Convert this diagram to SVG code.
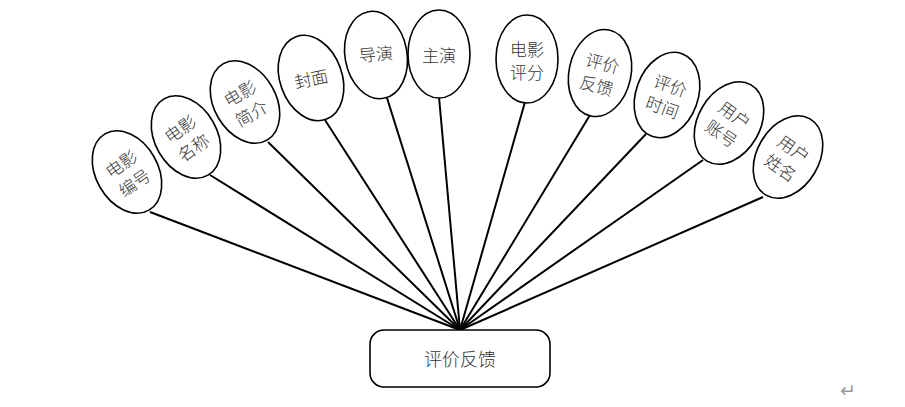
<svg xmlns="http://www.w3.org/2000/svg" width="905" height="407" viewBox="0 0 905 407">
<style>
.c line{stroke:#000;stroke-width:2}
.n ellipse{fill:#fff;stroke:#000;stroke-width:1.6}
.n rect{fill:#fff;stroke:#000;stroke-width:1.6}
.t{font-family:"Noto Sans CJK SC","Noto Sans",sans-serif;font-size:17px;font-weight:300;fill:#333;text-anchor:middle;dominant-baseline:central}
</style>
<rect width="905" height="407" fill="#fff"/>
<g id="connectors" class="c">
<line x1="460" y1="330" x2="150" y2="212"/>
<line x1="460" y1="330" x2="210" y2="175"/>
<line x1="460" y1="330" x2="268" y2="142"/>
<line x1="460" y1="330" x2="325" y2="120"/>
<line x1="460" y1="330" x2="387" y2="98"/>
<line x1="460" y1="330" x2="439" y2="97"/>
<line x1="460" y1="330" x2="525" y2="102"/>
<line x1="460" y1="330" x2="590" y2="115"/>
<line x1="460" y1="330" x2="646" y2="134"/>
<line x1="460" y1="330" x2="703" y2="160"/>
<line x1="460" y1="330" x2="763" y2="197"/>
</g>
<g id="n1" class="n" transform="translate(127,172)"><ellipse rx="31" ry="44" transform="rotate(-30)"/><g transform="rotate(-35)"><text class="t" y="-11">电影</text><text class="t" y="12">编号</text></g></g>
<g id="n2" class="n" transform="translate(186,137)"><ellipse rx="31" ry="44" transform="rotate(-30)"/><g transform="rotate(-35)"><text class="t" y="-11">电影</text><text class="t" y="12">名称</text></g></g>
<g id="n3" class="n" transform="translate(245,102)"><ellipse rx="31" ry="44" transform="rotate(-30)"/><g transform="rotate(-30)"><text class="t" y="-11">电影</text><text class="t" y="12">简介</text></g></g>
<g id="n4" class="n" transform="translate(311,78)"><ellipse rx="31" ry="44" transform="rotate(-20)"/><g transform="rotate(-12)"><text class="t" y="0">封面</text></g></g>
<g id="n5" class="n" transform="translate(376,55)"><ellipse rx="31" ry="44" transform="rotate(-10)"/><g transform="rotate(-5)"><text class="t" y="-2">导演</text></g></g>
<g id="n6" class="n" transform="translate(439,54)"><ellipse rx="31" ry="44"/><text class="t" y="0">主演</text></g>
<g id="n7" class="n" transform="translate(527,59)"><ellipse rx="31" ry="44"/><text class="t" y="-11">电影</text><text class="t" y="12">评分</text></g>
<g id="n8" class="n" transform="translate(600,73)"><ellipse rx="31" ry="44" transform="rotate(12)"/><g transform="rotate(15)"><text class="t" y="-11">评价</text><text class="t" y="12">反馈</text></g></g>
<g id="n9" class="n" transform="translate(667,95)"><ellipse rx="31" ry="44" transform="rotate(20)"/><g transform="rotate(20)"><text class="t" y="-11">评价</text><text class="t" y="12">时间</text></g></g>
<g id="n10" class="n" transform="translate(729,123)"><ellipse rx="31" ry="44" transform="rotate(30)"/><g transform="rotate(35)"><text class="t" y="-11">用户</text><text class="t" y="12">账号</text></g></g>
<g id="n11" class="n" transform="translate(788,157)"><ellipse rx="31" ry="44" transform="rotate(30)"/><g transform="rotate(35)"><text class="t" y="-11">用户</text><text class="t" y="12">姓名</text></g></g>
<g id="root" class="n"><rect x="370" y="330" width="180" height="57" rx="14"/><text class="t" x="460" y="358" style="font-size:18px">评价反馈</text></g>
<text x="848" y="390" style="font-family:'DejaVu Sans',sans-serif;font-size:19px;fill:#999;text-anchor:middle;dominant-baseline:central">↵</text>
</svg>
